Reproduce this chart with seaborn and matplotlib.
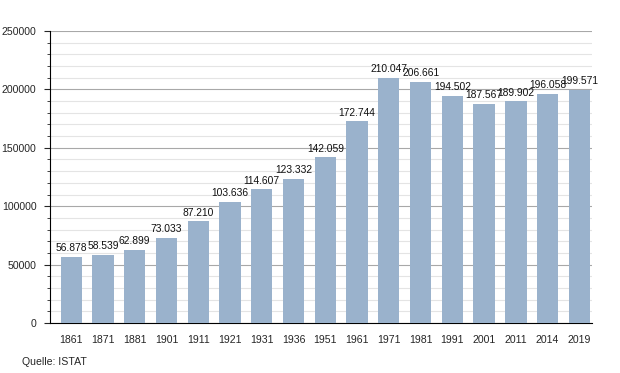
import matplotlib
matplotlib.use("Agg")
import matplotlib.pyplot as plt
from matplotlib.ticker import MultipleLocator
import seaborn as sns
import pandas as pd

years = ["1861", "1871", "1881", "1901", "1911", "1921", "1931", "1936", "1951",
         "1961", "1971", "1981", "1991", "2001", "2011", "2014", "2019"]
population = [56878, 58539, 62899, 73033, 87210, 103636, 114607, 123332, 142059,
              172744, 210047, 206661, 194502, 187567, 189902, 196058, 199571]

df = pd.DataFrame({"Jahr": years, "Einwohner": population})

sns.set_style("white")
plt.rcParams['font.family'] = ['Liberation Sans', 'DejaVu Sans']

fig = plt.figure(figsize=(6.2, 3.73), dpi=100)
ax = fig.add_axes([0.081, 0.134, 0.874, 0.783])

sns.barplot(data=df, x="Jahr", y="Einwohner", color="#9ab2cc", saturation=1,
            width=0.67, linewidth=0, ax=ax, zorder=3)

# Wertebeschriftung mit Punkt als Tausendertrenner
for i, v in enumerate(population):
    lbl = f"{v:,}".replace(",", ".")
    ax.text(i, v + 3000, lbl, ha="center", va="bottom", fontsize=7.4, color="#111111", zorder=4)

ax.set_ylim(0, 250000)
ax.set_xlim(-0.66, 16.4)
ax.yaxis.set_major_locator(MultipleLocator(50000))
ax.yaxis.set_minor_locator(MultipleLocator(10000))
ax.grid(which="major", axis="y", color="#a8a8a8", linewidth=0.8, zorder=0)
ax.grid(which="minor", axis="y", color="#e4e4e4", linewidth=0.8, zorder=0)
ax.set_axisbelow(True)

for s in ["top", "right"]:
    ax.spines[s].set_visible(False)
ax.spines["left"].set_color("black")
ax.spines["bottom"].set_color("black")
ax.spines["left"].set_linewidth(0.8)
ax.spines["bottom"].set_linewidth(0.8)

ax.tick_params(axis="y", which="major", left=True, length=4, width=0.8, labelsize=7.6, pad=6)
ax.tick_params(axis="y", which="minor", left=True, length=2, width=0.6)
ax.tick_params(axis="x", bottom=False, labelsize=7.6, pad=5)
ax.set_xlabel("")
ax.set_ylabel("")

fig.text(22 / 620, 1 - 362 / 373, "Quelle: ISTAT", fontsize=7.6, va="center", ha="left")

fig.savefig("out.png", dpi=100)
